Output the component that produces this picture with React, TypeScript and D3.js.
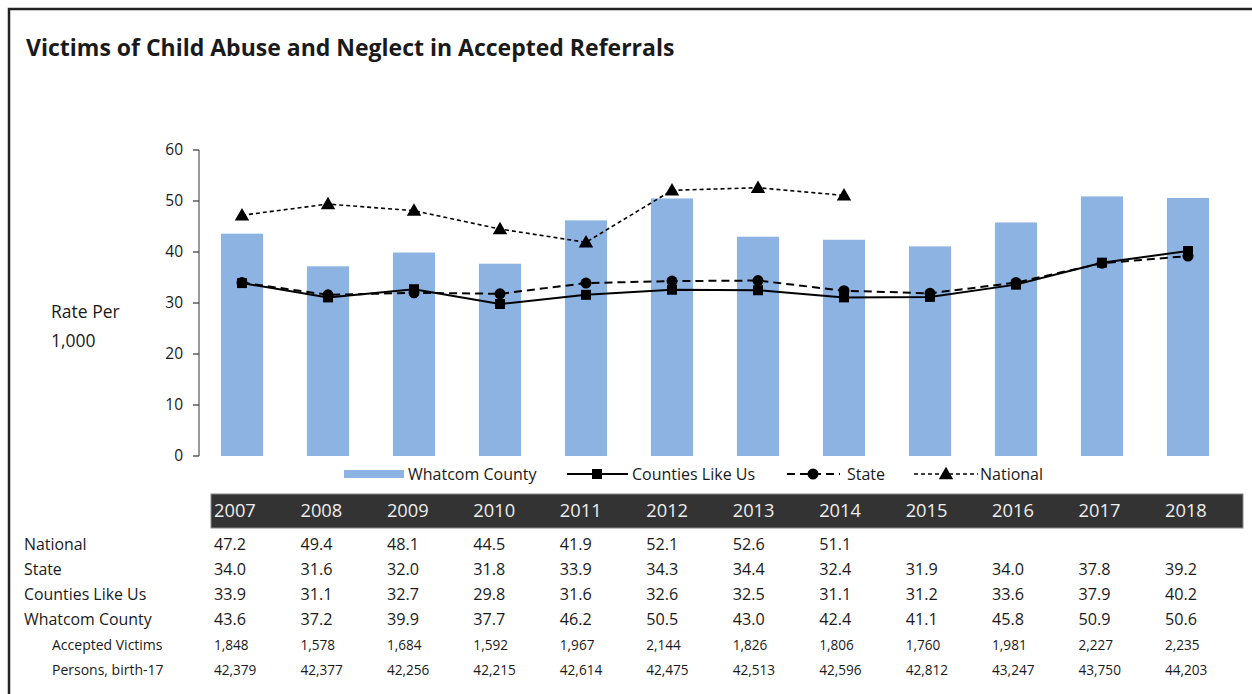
import React from 'react';
import * as d3 from 'd3';

// Values
const years = ['2007', '2008', '2009', '2010', '2011', '2012', '2013', '2014', '2015', '2016', '2017', '2018'];
const national: (number | null)[] = [47.2, 49.4, 48.1, 44.5, 41.9, 52.1, 52.6, 51.1, null, null, null, null];
const state = [34.0, 31.6, 32.0, 31.8, 33.9, 34.3, 34.4, 32.4, 31.9, 34.0, 37.8, 39.2];
const countiesLikeUs = [33.9, 31.1, 32.7, 29.8, 31.6, 32.6, 32.5, 31.1, 31.2, 33.6, 37.9, 40.2];
const whatcom = [43.6, 37.2, 39.9, 37.7, 46.2, 50.5, 43.0, 42.4, 41.1, 45.8, 50.9, 50.6];
const acceptedVictims = ['1,848', '1,578', '1,684', '1,592', '1,967', '2,144', '1,826', '1,806', '1,760', '1,981', '2,227', '2,235'];
const persons = ['42,379', '42,377', '42,256', '42,215', '42,614', '42,475', '42,513', '42,596', '42,812', '43,247', '43,750', '44,203'];
const yTicks = [0, 10, 20, 30, 40, 50, 60];

const FONT = '"Open Sans", "Noto Sans", sans-serif';
const TEXT = '#1a1a1a';
const BAR = '#8db3e2';

const App = () => {
  const width = 1252;
  const height = 694;

  const x = d3.scaleBand<string>().domain(years).range([199, 1231]).padding(0);
  const y = d3.scaleLinear().domain([0, 60]).range([456, 150]);
  const cx = (yr: string) => (x(yr) ?? 0) + x.bandwidth() / 2;
  const barW = x.bandwidth() * 0.49;

  const line = d3.line<number | null>()
    .defined(d => d != null)
    .x((_, i) => cx(years[i]))
    .y(d => y(d as number));

  const tri = d3.symbol(d3.symbolTriangle, 90)();
  const sq = d3.symbol(d3.symbolSquare, 100)();

  // table columns
  const tx = d3.scaleBand<string>().domain(years).range([214, 1165 + 86.45]);
  const rowLabels = [
    { label: 'National', vals: national.map(v => (v == null ? '' : v.toFixed(1))), indent: false },
    { label: 'State', vals: state.map(v => v.toFixed(1)), indent: false },
    { label: 'Counties Like Us', vals: countiesLikeUs.map(v => v.toFixed(1)), indent: false },
    { label: 'Whatcom County', vals: whatcom.map(v => v.toFixed(1)), indent: false },
    { label: 'Accepted Victims', vals: acceptedVictims, indent: true },
    { label: 'Persons, birth-17', vals: persons, indent: true },
  ];
  const rowY = d3.scaleLinear().domain([0, 5]).range([544, 670]);

  return (
    <svg width={width} height={height} style={{ position: 'absolute', left: 0, top: 0 }} fontFamily={FONT}>
      <rect x={0} y={0} width={width} height={height} fill="#fff" />
      {/* frame */}
      <path d={`M9,${height + 5} V9 H${width + 5}`} fill="none" stroke="#222" strokeWidth={2.5} />

      <text x={26} y={56} fontSize={23} fontWeight={700} fill={TEXT}>
        Victims of Child Abuse and Neglect in Accepted Referrals
      </text>

      <text x={51} y={318} fontSize={17.5} fill={TEXT}>Rate Per</text>
      <text x={51} y={347} fontSize={17.5} fill={TEXT}>1,000</text>

      {/* bars */}
      {years.map((yr, i) => (
        <rect key={yr} x={cx(yr) - barW / 2} y={y(whatcom[i])} width={barW} height={y(0) - y(whatcom[i])} fill={BAR} />
      ))}

      {/* y axis */}
      <line x1={199} x2={199} y1={y(60)} y2={y(0)} stroke="#777" strokeWidth={1.5} />
      {yTicks.map(t => (
        <g key={t}>
          <line x1={193} x2={199} y1={y(t)} y2={y(t)} stroke="#333" strokeWidth={1.2} />
          <text x={183} y={y(t)} dy="0.35em" textAnchor="end" fontSize={15.5} fill={TEXT}>{t}</text>
        </g>
      ))}

      {/* lines */}
      <path d={line(state) ?? ''} fill="none" stroke="#000" strokeWidth={2} strokeDasharray="8,5" />
      <path d={line(countiesLikeUs) ?? ''} fill="none" stroke="#000" strokeWidth={2} />
      <path d={line(national) ?? ''} fill="none" stroke="#000" strokeWidth={1.6} strokeDasharray="4,3" />

      {state.map((v, i) => <circle key={'s' + i} cx={cx(years[i])} cy={y(v)} r={5.5} fill="#000" />)}
      {countiesLikeUs.map((v, i) => (
        <path key={'c' + i} d={sq ?? ''} transform={`translate(${cx(years[i])},${y(v)})`} fill="#000" />
      ))}
      {national.map((v, i) => v == null ? null : (
        <path key={'n' + i} d={tri ?? ''} transform={`translate(${cx(years[i])},${y(v) + 1})`} fill="#000" />
      ))}

      {/* legend */}
      <g fontSize={16} fill={TEXT}>
        <rect x={344} y={470} width={60} height={8} fill={BAR} />
        <text x={408} y={474} dy="0.35em">Whatcom County</text>

        <line x1={567} x2={628} y1={474} y2={474} stroke="#000" strokeWidth={2} />
        <path d={sq ?? ''} transform="translate(597,474)" fill="#000" />
        <text x={632} y={474} dy="0.35em">Counties Like Us</text>

        <line x1={784} x2={840} y1={474} y2={474} stroke="#000" strokeWidth={2} strokeDasharray="8,5" strokeDashoffset={-3} />
        <circle cx={813} cy={474} r={5.5} fill="#000" />
        <text x={847} y={474} dy="0.35em">State</text>

        <line x1={914} x2={978} y1={474} y2={474} stroke="#000" strokeWidth={1.6} strokeDasharray="4,3" />
        <path d={tri ?? ''} transform="translate(946,475)" fill="#000" />
        <text x={980} y={474} dy="0.35em">National</text>
      </g>

      {/* table */}
      <rect x={211} y={494} width={1032} height={34} fill="#333" stroke="#888" strokeWidth={1} />
      {years.map(yr => (
        <text key={'h' + yr} x={tx(yr)} y={511} dy="0.35em" fontSize={18.3} fill="#eee">{yr}</text>
      ))}
      {rowLabels.map((r, ri) => (
        <g key={r.label} fill={TEXT}>
          <text x={r.indent ? 52 : 24} y={rowY(ri)} dy="0.35em" fontSize={r.indent ? 14 : 15.9}>{r.label}</text>
          {r.vals.map((v, i) => (
            <text key={i} x={tx(years[i])} y={rowY(ri)} dy="0.35em" fontSize={r.indent ? 13.6 : 16.2}>{v}</text>
          ))}
        </g>
      ))}
    </svg>
  );
};

export default App;
